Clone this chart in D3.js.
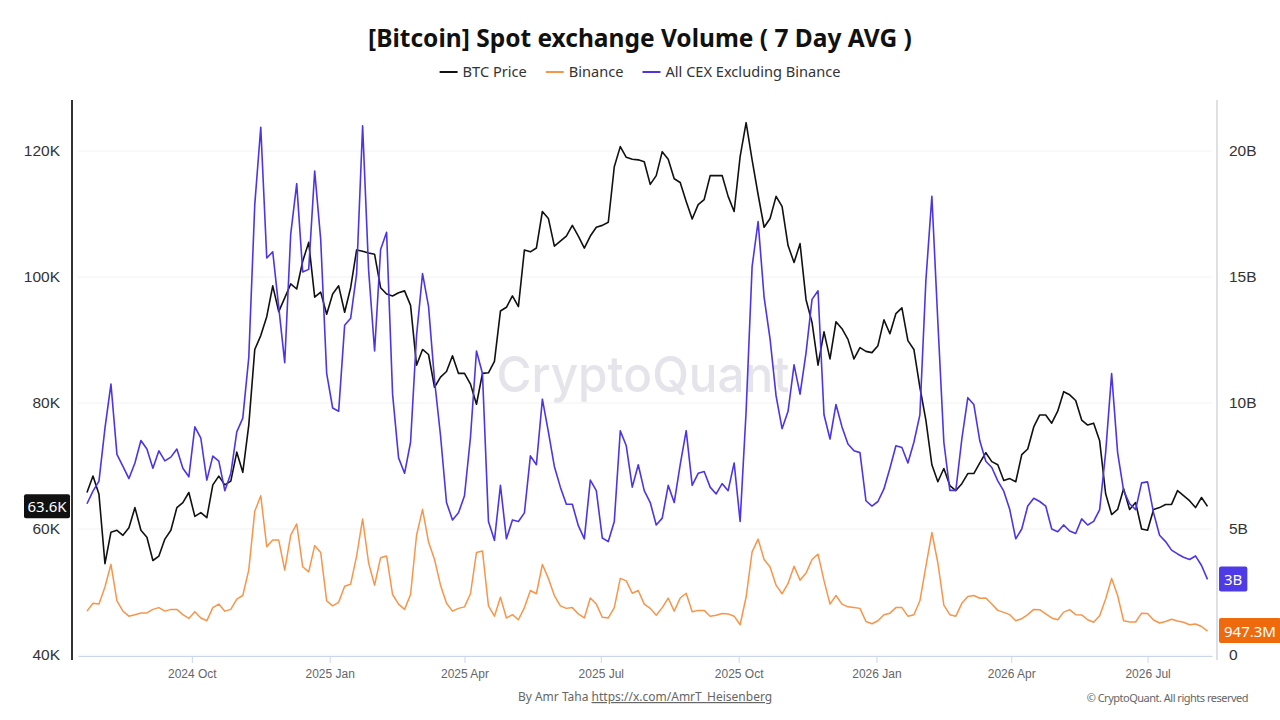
<!DOCTYPE html>
<html>
<head>
<meta charset="utf-8">
<script src="https://cdn.jsdelivr.net/npm/d3@7"></script>
<style>
  html, body { margin: 0; padding: 0; background: #fff; }
  svg { display: block; font-family: "Noto Sans", "Open Sans", sans-serif; }
</style>
</head>
<body>
<div id="chart"></div>
<script>
// 7 day averages, one sample every 4 days starting 2024-07-23
const startDate = "2024-07-23";
const stepDays = 4;

// BTC price, thousands of USD
const btcPriceK = [
  65.8, 68.4, 65.5, 54.5, 59.5, 59.8, 59.0, 60.2, 63.4, 59.8,
  58.7, 55.0, 55.7, 58.4, 59.8, 63.4, 64.2, 65.8, 62.0, 62.6,
  61.8, 67.0, 68.4, 67.0, 67.6, 72.2, 69.0, 76.5, 88.5, 90.7,
  93.7, 98.6, 94.5, 96.7, 98.9, 98.1, 102.5, 105.5, 96.8, 97.6,
  94.1, 97.3, 98.6, 94.4, 98.3, 104.3, 104.1, 103.8, 103.6, 98.3,
  97.3, 97.0, 97.5, 97.8, 95.5, 86.0, 88.5, 87.7, 82.5, 84.1,
  85.0, 87.5, 84.7, 84.7, 83.0, 79.8, 84.7, 84.8, 86.6, 94.6,
  95.2, 97.0, 95.3, 104.3, 104.0, 104.6, 110.4, 109.3, 104.9, 105.7,
  106.5, 108.2, 106.5, 104.6, 106.5, 107.9, 108.2, 108.7, 117.5, 120.7,
  119.0, 118.7, 118.6, 118.3, 114.7, 116.1, 119.9, 118.7, 115.6, 115.0,
  112.0, 109.2, 111.5, 112.3, 116.1, 116.1, 116.1, 112.8, 110.4, 119.1,
  124.5, 118.6, 113.1, 107.9, 109.3, 112.8, 111.2, 105.0, 102.3, 105.3,
  96.4, 92.8, 86.0, 91.3, 87.0, 92.9, 91.8, 90.1, 87.0, 88.8,
  88.2, 88.0, 89.1, 93.2, 91.0, 94.2, 95.1, 89.9, 88.5, 82.5,
  77.3, 70.2, 67.5, 69.6, 66.9, 66.1, 67.2, 68.8, 68.8, 70.5,
  72.1, 70.7, 70.2, 67.7, 68.0, 67.5, 71.8, 72.7, 76.2, 78.1,
  78.1, 76.8, 78.7, 81.8, 81.3, 80.4, 77.3, 76.5, 76.8, 74.0,
  65.6, 62.3, 63.1, 66.4, 63.1, 64.2, 60.0, 59.8, 63.1, 63.4,
  63.9, 63.9, 66.1, 65.3, 64.5, 63.4, 65.0, 63.6
];

// Binance spot volume, billions of USD
const binanceVolB = [
  1.74, 2.05, 2.02, 2.70, 3.60, 2.15, 1.74, 1.54, 1.60, 1.67,
  1.67, 1.81, 1.88, 1.74, 1.81, 1.81, 1.60, 1.45, 1.72, 1.47,
  1.36, 1.88, 2.02, 1.74, 1.81, 2.22, 2.36, 3.38, 5.70, 6.32,
  4.30, 4.56, 4.56, 3.37, 4.76, 5.20, 3.50, 3.30, 4.34, 4.07,
  2.15, 1.95, 2.09, 2.73, 2.81, 3.93, 5.40, 3.65, 2.77, 3.86,
  3.93, 2.40, 2.02, 1.81, 2.40, 4.75, 5.78, 4.48, 3.79, 2.77,
  2.05, 1.74, 1.85, 1.91, 2.43, 4.07, 4.13, 1.95, 1.54, 2.29,
  1.47, 1.60, 1.40, 1.88, 2.56, 2.43, 3.59, 3.04, 2.36, 1.95,
  1.85, 1.88, 1.63, 1.47, 2.26, 2.02, 1.50, 1.47, 1.88, 3.04,
  2.94, 2.45, 2.56, 2.02, 1.85, 1.58, 1.88, 2.26, 1.74, 2.26,
  2.45, 1.72, 1.77, 1.77, 1.54, 1.58, 1.65, 1.63, 1.54, 1.20,
  2.30, 4.09, 4.60, 3.79, 3.49, 2.77, 2.43, 2.84, 3.52, 2.97,
  3.25, 3.79, 4.00, 2.95, 2.02, 2.36, 2.02, 1.91, 1.88, 1.85,
  1.33, 1.24, 1.36, 1.60, 1.66, 1.88, 1.88, 1.54, 1.60, 2.15,
  3.52, 4.86, 3.65, 1.98, 1.60, 1.54, 2.05, 2.32, 2.36, 2.25,
  2.26, 2.02, 1.77, 1.69, 1.60, 1.36, 1.44, 1.60, 1.81, 1.80,
  1.63, 1.47, 1.40, 1.70, 1.80, 1.60, 1.59, 1.40, 1.30, 1.56,
  2.22, 3.04, 2.36, 1.36, 1.31, 1.31, 1.66, 1.65, 1.39, 1.27,
  1.33, 1.42, 1.35, 1.30, 1.20, 1.23, 1.13, 0.9473
];

// all other CEX spot volume, billions of USD
const otherCexVolB = [
  6.00, 6.50, 6.90, 9.00, 10.75, 7.96, 7.48, 7.00, 7.62, 8.51,
  8.17, 7.41, 8.10, 7.70, 7.85, 8.17, 7.41, 7.07, 9.05, 8.60,
  6.94, 7.89, 7.69, 6.52, 7.20, 8.85, 9.40, 11.80, 17.87, 20.94,
  15.75, 16.00, 13.80, 11.60, 16.70, 18.70, 15.20, 15.30, 19.20, 16.50,
  11.17, 9.80, 9.67, 13.08, 13.36, 15.13, 21.00, 15.27, 12.06, 16.09,
  16.77, 10.35, 7.82, 7.21, 8.44, 12.67, 15.13, 13.83, 10.90, 8.71,
  6.05, 5.36, 5.64, 6.32, 8.64, 12.06, 11.17, 5.30, 4.55, 6.73,
  4.61, 5.36, 5.30, 5.64, 7.90, 7.55, 10.15, 8.85, 7.48, 6.66,
  5.98, 5.98, 5.13, 4.61, 6.94, 6.52, 4.64, 4.50, 5.30, 8.90,
  8.30, 6.66, 7.55, 6.52, 6.05, 5.16, 5.43, 6.73, 6.05, 7.55,
  8.90, 6.73, 7.21, 7.28, 6.66, 6.39, 6.80, 6.52, 7.62, 5.30,
  9.67, 15.41, 17.20, 14.20, 12.53, 10.28, 8.98, 9.67, 11.51, 10.35,
  11.99, 14.11, 14.45, 9.53, 8.57, 9.94, 9.05, 8.37, 8.10, 8.03,
  6.12, 5.91, 6.09, 6.59, 7.41, 8.30, 8.23, 7.62, 8.44, 9.53,
  14.86, 18.20, 13.20, 8.44, 6.53, 6.53, 8.57, 10.21, 9.94, 8.50,
  7.69, 7.44, 6.91, 6.50, 5.77, 4.61, 5.00, 5.91, 6.22, 6.09,
  5.91, 5.00, 4.89, 5.16, 4.92, 4.82, 5.40, 5.16, 5.30, 5.77,
  8.03, 11.17, 8.03, 6.52, 6.00, 5.77, 6.83, 6.87, 5.64, 4.75,
  4.50, 4.16, 4.01, 3.88, 3.79, 3.93, 3.55, 3.00
];

const leftTicksK = [40, 60, 80, 100, 120];
const rightTicksB = [0, 5, 10, 15, 20];
const xTickDates = ["2024-10-01", "2025-01-01", "2025-04-01", "2025-07-01",
                    "2025-10-01", "2026-01-01", "2026-04-01", "2026-07-01"];
const seriesNames = ["BTC Price", "Binance", "All CEX Excluding Binance"];
const seriesColors = ["#111111", "#f7954b", "#4d35e6"];
const badgeColors = ["#111111", "#ee6a0c", "#4f3ae8"];

const width = 1280, height = 720;
const plot = { left: 78, right: 1212, top: 100, bottom: 655 };

const parse = d3.utcParse("%Y-%m-%d");
const t0 = parse(startDate);
const dates = btcPriceK.map((_, i) => d3.utcDay.offset(t0, i * stepDays));

const x = d3.scaleUtc()
    .domain([parse("2024-07-17"), parse("2026-08-13")])
    .range([plot.left, plot.right]);
const yL = d3.scaleLinear().domain([40, 128.1]).range([plot.bottom, plot.top]);
const yR = d3.scaleLinear().domain([0, 22.02]).range([plot.bottom, plot.top]);

const svg = d3.select("#chart").append("svg")
    .attr("width", width)
    .attr("height", height);

// title
svg.append("text")
    .attr("x", 640).attr("y", 47)
    .attr("text-anchor", "middle")
    .attr("font-size", 24.5).attr("font-weight", 700)
    .attr("fill", "#111")
    .text("[Bitcoin] Spot exchange Volume ( 7 Day AVG )");

// legend, laid out left to right then centred
const legend = svg.append("g");
let lx = 0;
seriesNames.forEach((name, i) => {
    const g = legend.append("g").attr("transform", `translate(${lx},0)`);
    g.append("line")
        .attr("x1", 0).attr("x2", 18).attr("y1", 0).attr("y2", 0)
        .attr("stroke", seriesColors[i]).attr("stroke-width", 2);
    const t = g.append("text")
        .attr("x", 23).attr("y", 5)
        .attr("font-size", 14.6).attr("fill", "#333")
        .text(name);
    lx += 23 + t.node().getComputedTextLength() + 19;
});
legend.attr("transform", `translate(${640 - (lx - 19) / 2},72)`);

// gridlines
svg.append("g").selectAll("line")
    .data(leftTicksK)
    .enter().append("line")
    .attr("x1", plot.left).attr("x2", plot.right)
    .attr("y1", d => yL(d)).attr("y2", d => yL(d))
    .attr("stroke", "#f2f2f4").attr("stroke-width", 1);

// watermark
svg.append("text")
    .attr("x", 643).attr("y", 392)
    .attr("text-anchor", "middle")
    .attr("font-family", "Inter, 'Noto Sans', sans-serif")
    .attr("font-size", 50).attr("font-weight", 500)
    .attr("textLength", 293).attr("lengthAdjust", "spacingAndGlyphs")
    .attr("fill", "#e4e4ea")
    .text("CryptoQuant");

// left axis
const gl = svg.append("g")
    .attr("transform", "translate(72,0)")
    .call(d3.axisLeft(yL).tickValues(leftTicksK).tickFormat(d => d + "K").tickSize(0).tickPadding(12));
gl.select(".domain").remove();
gl.selectAll("text").attr("font-size", 15.5).attr("fill", "#333").attr("font-family", null);
svg.append("line")
    .attr("x1", 72).attr("x2", 72).attr("y1", 100).attr("y2", 660)
    .attr("stroke", "#333").attr("stroke-width", 2);

// right axis
const gr = svg.append("g")
    .attr("transform", "translate(1217,0)")
    .call(d3.axisRight(yR).tickValues(rightTicksB).tickFormat(d => d === 0 ? "0" : d + "B").tickSize(0).tickPadding(12));
gr.select(".domain").remove();
gr.selectAll("text").attr("font-size", 15.5).attr("fill", "#333").attr("font-family", null);
svg.append("line")
    .attr("x1", 1217).attr("x2", 1217).attr("y1", 100).attr("y2", 660)
    .attr("stroke", "#d4d6de").attr("stroke-width", 1.5);

// bottom axis
const gx = svg.append("g")
    .attr("transform", `translate(0,${plot.bottom + 1})`)
    .call(d3.axisBottom(x).tickValues(xTickDates.map(parse))
        .tickFormat(d3.utcFormat("%Y %b")).tickSize(7).tickSizeOuter(0).tickPadding(6));
gx.select(".domain").attr("stroke", "#ccd6eb");
gx.selectAll(".tick line").attr("stroke", "#ccd6eb");
gx.selectAll("text").attr("font-size", 12).attr("fill", "#666").attr("font-family", null);

// series lines
const lineL = d3.line().x((d, i) => x(dates[i])).y(d => yL(d));
const lineR = d3.line().x((d, i) => x(dates[i])).y(d => yR(d));

svg.append("path").datum(btcPriceK)
    .attr("d", lineL).attr("fill", "none")
    .attr("stroke", seriesColors[0]).attr("stroke-width", 1.6).attr("stroke-linejoin", "round");
svg.append("path").datum(binanceVolB)
    .attr("d", lineR).attr("fill", "none")
    .attr("stroke", seriesColors[1]).attr("stroke-width", 1.5).attr("stroke-linejoin", "round");
svg.append("path").datum(otherCexVolB)
    .attr("d", lineR).attr("fill", "none")
    .attr("stroke", seriesColors[2]).attr("stroke-width", 1.6).attr("stroke-linejoin", "round");

// last value badges
const fmtVol = v => v >= 1 ? `${+v.toFixed(1)}B` : `${(v * 1000).toFixed(1)}M`;
const lastBtc = btcPriceK[btcPriceK.length - 1];
const lb = svg.append("g");
lb.append("rect")
    .attr("x", 24).attr("y", yL(lastBtc) - 12)
    .attr("width", 46).attr("height", 24).attr("rx", 2)
    .attr("fill", badgeColors[0]);
lb.append("text")
    .attr("x", 47).attr("y", yL(lastBtc) + 5.5)
    .attr("text-anchor", "middle")
    .attr("font-size", 15).attr("fill", "#fff")
    .text(`${lastBtc}K`);

[[binanceVolB, 1], [otherCexVolB, 2]].forEach(([vals, k]) => {
    const v = vals[vals.length - 1];
    const g = svg.append("g");
    const rect = g.append("rect")
        .attr("x", 1219).attr("y", yR(v) - 13)
        .attr("height", 25).attr("rx", 2)
        .attr("fill", badgeColors[k]);
    const t = g.append("text")
        .attr("x", 1224).attr("y", yR(v) + 5.5)
        .attr("font-size", 15).attr("fill", "#fff")
        .text(fmtVol(v));
    rect.attr("width", t.node().getComputedTextLength() + 10);
});

// footer
const credit = svg.append("text")
    .attr("x", 645).attr("y", 701)
    .attr("text-anchor", "middle")
    .attr("font-size", 12).attr("fill", "#666");
credit.append("tspan").text("By Amr Taha ");
credit.append("tspan").attr("text-decoration", "underline").text("https://x.com/AmrT_Heisenberg");

svg.append("text")
    .attr("x", 1248).attr("y", 702)
    .attr("text-anchor", "end")
    .attr("font-size", 11).attr("letter-spacing", -0.5)
    .attr("fill", "#666")
    .text("© CryptoQuant. All rights reserved");
</script>
</body>
</html>
